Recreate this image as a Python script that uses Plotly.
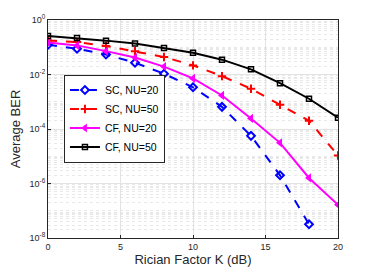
import plotly.graph_objects as go

k_db = [0, 2, 4, 6, 8, 10, 12, 14, 16, 18, 20]
k_db_sc20 = [0, 2, 4, 6, 8, 10, 12, 14, 16, 18]

sc_nu20 = [1.24e-1, 8.8e-2, 5.4e-2, 2.7e-2, 1.07e-2, 3.4e-3, 6.5e-4, 5.6e-5, 2.0e-6, 3.2e-8]
sc_nu50 = [1.78e-1, 1.55e-1, 1.11e-1, 7.2e-2, 4.4e-2, 2.16e-2, 8.7e-3, 3.0e-3, 7.8e-4, 2.0e-4, 1.07e-5]
cf_nu20 = [1.48e-1, 1.17e-1, 7.2e-2, 4.2e-2, 1.95e-2, 7.2e-3, 1.7e-3, 2.45e-4, 3.1e-5, 1.6e-6, 1.65e-7]
cf_nu50 = [2.58e-1, 2.18e-1, 1.75e-1, 1.36e-1, 9.3e-2, 6.3e-2, 3.5e-2, 1.55e-2, 4.8e-3, 1.29e-3, 2.6e-4]

y_tickvals = [1, 1e-2, 1e-4, 1e-6, 1e-8]
y_ticktext = ["10<sup>0</sup>", "10<sup>-2</sup>", "10<sup>-4</sup>", "10<sup>-6</sup>", "10<sup>-8</sup>"]
x_tick_step = 5

minor_y = [m * 10.0 ** e for e in range(-8, 0) for m in range(1, 10)]

fig = go.Figure()
fig.add_trace(go.Scatter(x=k_db_sc20, y=sc_nu20, name="SC, NU=20", mode="lines+markers",
                         line=dict(color="#0000ff", width=2, dash="dash"),
                         marker=dict(symbol="diamond-open", size=6, color="#0000ff", line=dict(width=2))))
fig.add_trace(go.Scatter(x=k_db, y=sc_nu50, name="SC, NU=50", mode="lines+markers",
                         line=dict(color="#ff0000", width=2, dash="dash"),
                         marker=dict(symbol="cross-thin", size=6, color="#ff0000", line=dict(width=2, color="#ff0000"))))
fig.add_trace(go.Scatter(x=k_db, y=cf_nu20, name="CF, NU=20", mode="lines+markers",
                         line=dict(color="#ff00ff", width=2),
                         marker=dict(symbol="triangle-left", size=8, color="#ff00ff")))
fig.add_trace(go.Scatter(x=k_db, y=cf_nu50, name="CF, NU=50", mode="lines+markers",
                         line=dict(color="#000000", width=2),
                         marker=dict(symbol="square-open", size=5, color="#000000", line=dict(width=1.5))))

fig.update_layout(
    width=366, height=263,
    margin=dict(l=40, r=36, t=12, b=33, autoexpand=False),
    paper_bgcolor="white", plot_bgcolor="white",
    font=dict(family="Liberation Sans, Arial, sans-serif", color="#262626", size=9),
    showlegend=True,
    legend=dict(x=0.055, y=0.75, xanchor="left", yanchor="top",
                bgcolor="white", bordercolor="#262626", borderwidth=1,
                font=dict(size=10.5, color="#000000"),
                tracegroupgap=0, itemwidth=30),
)
fig.update_xaxes(range=[0, 20], tickmode="linear", tick0=0, dtick=x_tick_step,
                 automargin=False,
                 showline=True, linecolor="#262626", linewidth=1,
                 mirror=True, ticks="inside", ticklen=3, tickcolor="#262626",
                 showgrid=True, gridcolor="#e3e3e3", gridwidth=1, zeroline=False,
                 title=dict(text="Rician Factor K (dB)", font=dict(size=13), standoff=4))
fig.update_yaxes(type="log", range=[-8, 0], tickmode="array", tickvals=y_tickvals, ticktext=y_ticktext,
                 automargin=False,
                 showline=True, linecolor="#262626", linewidth=1, mirror=True,
                 ticks="inside", ticklen=3, tickcolor="#262626",
                 showgrid=True, gridcolor="#e3e3e3", gridwidth=1, zeroline=False,
                 minor=dict(tickmode="array", tickvals=minor_y, showgrid=True, gridcolor="#e8e8e8", griddash="dot", ticks=""),
                 title=dict(text="Average BER", font=dict(size=13), standoff=6))

fig.write_html("out.html")
